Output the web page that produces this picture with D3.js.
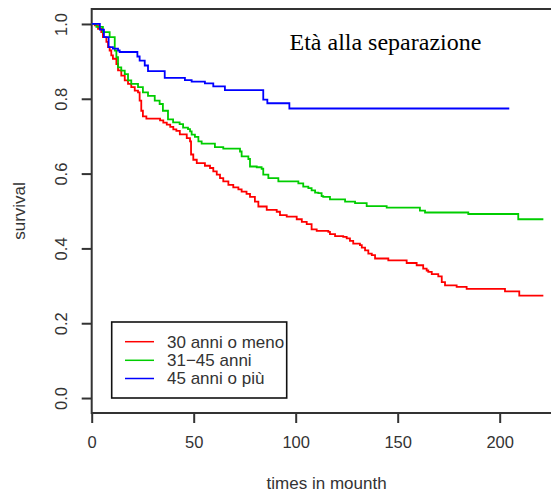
<!DOCTYPE html>
<html>
<head>
<meta charset="utf-8">
<script src="https://cdn.jsdelivr.net/npm/d3@7"></script>
<style>
html,body{margin:0;padding:0;background:#fff;}
svg{display:block;}
</style>
</head>
<body>
<svg id="chart" width="551" height="496"></svg>
<script>
// ---- data ----
const groups = ["30 anni o meno", "31\u221245 anni", "45 anni o più"];
const colors = ["#ff0000", "#00cd00", "#0000ff"];

const redTime = [0,1.5,3.1,4.7,5.5,7.2,8.0,8.8,9.6,10.4,12.1,12.9,14.5,16.2,17.8,19.4,21.1,22.7,23.5,24.3,25.1,26.8,33.5,35.1,36.8,38.5,40.0,41.5,43.2,46.6,48.2,48.7,49.8,51.5,55.5,58.0,59.6,61.3,62.9,64.5,67.0,69.4,71.9,73.5,75.9,77.6,80.0,81.7,85.8,90.7,92.3,95.6,100.5,103.0,105.4,107.8,110.3,116.0,116.8,119.3,123.3,125.0,126.6,128.2,131.5,132.4,134.0,135.6,137.3,138.9,145.4,154.4,159.3,162.5,164.2,165.0,166.7,169.9,171.6,173.2,178.9,183.8,202.6,209.6,221.4];
const redSurv = [1.0,0.996,0.987,0.978,0.965,0.952,0.938,0.929,0.916,0.907,0.893,0.876,0.862,0.849,0.840,0.831,0.822,0.817,0.795,0.768,0.753,0.747,0.742,0.736,0.731,0.725,0.718,0.714,0.705,0.695,0.686,0.651,0.637,0.628,0.621,0.615,0.606,0.597,0.588,0.579,0.570,0.563,0.558,0.552,0.546,0.538,0.525,0.512,0.503,0.498,0.489,0.485,0.478,0.471,0.465,0.451,0.447,0.444,0.438,0.433,0.431,0.427,0.420,0.413,0.409,0.402,0.395,0.386,0.382,0.373,0.368,0.361,0.355,0.346,0.341,0.337,0.331,0.325,0.310,0.301,0.297,0.292,0.285,0.274,0.274];

const greenTime = [0,2.3,5.5,8.8,11.3,12.1,12.9,14.5,16.2,17.8,19.4,22.7,25.1,27.6,30.9,33.3,34.9,37.4,39.9,43.1,44.8,47.2,48.2,49.0,50.6,52.3,53.9,60.4,64.5,72.7,73.5,76.8,77.6,80.9,83.3,84.1,86.6,91.5,101.3,103.7,106.2,107.8,109.5,111.1,112.7,113.5,116.8,124.2,129.1,134.8,144.6,160.9,163.4,184.6,209.1,221.4];
const greenSurv = [1.0,0.992,0.978,0.965,0.929,0.911,0.884,0.875,0.866,0.849,0.840,0.831,0.817,0.808,0.795,0.786,0.768,0.745,0.737,0.732,0.723,0.719,0.713,0.704,0.698,0.686,0.680,0.671,0.667,0.659,0.646,0.639,0.619,0.617,0.613,0.597,0.588,0.579,0.574,0.565,0.561,0.555,0.549,0.548,0.540,0.538,0.531,0.525,0.521,0.513,0.509,0.501,0.496,0.492,0.478,0.478];

const blueTime = [0,4.0,6.0,8.3,10.4,12.9,13.7,22.4,23.5,26.0,27.6,35.8,45.7,49.0,55.5,59.6,65.3,84.1,86.1,96.9,204.7];
const blueSurv = [1.0,0.985,0.965,0.938,0.934,0.929,0.925,0.913,0.902,0.889,0.874,0.856,0.850,0.846,0.841,0.833,0.823,0.798,0.788,0.774,0.774];

const xTicks = [0, 50, 100, 150, 200];
const yTicks = [0.0, 0.2, 0.4, 0.6, 0.8, 1.0];
const titleText = "Età alla separazione";
const xLabel = "times in mounth";
const yLabel = "survival";

// ---- drawing ----
(function(){
const series = [
  {name: groups[0], color: colors[0], pts: redTime.map((t,i)=>[t, redSurv[i]])},
  {name: groups[1], color: colors[1], pts: greenTime.map((t,i)=>[t, greenSurv[i]])},
  {name: groups[2], color: colors[2], pts: blueTime.map((t,i)=>[t, blueSurv[i]])}
];

const svg = d3.select("#chart");
const pLeft = 91.7, pRight = 561.5, pTop = 9, pBottom = 413;
const x = d3.scaleLinear().domain([0, 230.3]).range([pLeft, pRight]);
const y = d3.scaleLinear().domain([-0.04, 1.04]).range([pBottom, pTop]);

const font = "Liberation Sans, Arial, Helvetica, sans-serif";
const txt = "#333";

// frame
svg.append("rect")
  .attr("x", pLeft).attr("y", pTop)
  .attr("width", pRight - pLeft).attr("height", pBottom - pTop)
  .attr("fill", "none").attr("stroke", "#333").attr("stroke-width", 2);

// x axis
const xAxis = svg.append("g").attr("transform", `translate(0,${pBottom})`)
  .call(d3.axisBottom(x).tickValues(xTicks).tickSize(10).tickPadding(13).tickFormat(d3.format("d")));
xAxis.select(".domain").remove();
xAxis.selectAll("line").attr("stroke", "#333").attr("stroke-width", 2);
xAxis.selectAll("text").attr("font-family", font).attr("font-size", 16.5).attr("fill", txt);

// y axis
const yAxis = svg.append("g").attr("transform", `translate(${pLeft},0)`)
  .call(d3.axisLeft(y).tickValues(yTicks).tickSize(10).tickFormat(d3.format(".1f")));
yAxis.select(".domain").remove();
yAxis.selectAll("line").attr("stroke", "#333").attr("stroke-width", 2);
yAxis.selectAll(".tick").each(function(d){
  const g = d3.select(this);
  g.select("text")
    .attr("font-family", font).attr("font-size", 16.5).attr("fill", txt)
    .attr("x", null).attr("y", null).attr("dy", null)
    .attr("text-anchor", "middle")
    .attr("transform", `translate(${67 - pLeft},0) rotate(-90)`);
});

// axis labels
svg.append("text").attr("x", (pLeft+pRight)/2).attr("y", 489)
  .attr("text-anchor", "middle").attr("font-family", font).attr("font-size", 17).attr("fill", txt)
  .text(xLabel);
svg.append("text").attr("transform", `translate(25,${(pTop+pBottom)/2}) rotate(-90)`)
  .attr("text-anchor", "middle").attr("font-family", font).attr("font-size", 17).attr("fill", txt)
  .text(yLabel);

// curves
const line = d3.line().x(d => x(d[0])).y(d => y(d[1])).curve(d3.curveStepAfter);
svg.append("g").selectAll("path").data(series).join("path")
  .attr("d", d => line(d.pts))
  .attr("fill", "none")
  .attr("stroke", d => d.color)
  .attr("stroke-width", 1.8);

// title
svg.append("text").attr("x", 289.5).attr("y", 49.5)
  .attr("font-family", "Liberation Serif, Times New Roman, serif").attr("font-size", 24).attr("fill", "#000")
  .text(titleText);

// legend
const lg = svg.append("g");
lg.append("rect").attr("x", 111.7).attr("y", 322).attr("width", 175).attr("height", 76)
  .attr("fill", "#fff").attr("stroke", "#111").attr("stroke-width", 1.6);
const rowY = [341.7, 360.3, 378.5];
series.forEach((s, i) => {
  lg.append("line").attr("x1", 125).attr("x2", 154).attr("y1", rowY[i]).attr("y2", rowY[i])
    .attr("stroke", s.color).attr("stroke-width", 1.5);
  lg.append("text").attr("x", 167).attr("y", rowY[i] + 5.8)
    .attr("font-family", font).attr("font-size", 17).attr("fill", txt)
    .text(s.name);
});
})();
</script>
</body>
</html>
